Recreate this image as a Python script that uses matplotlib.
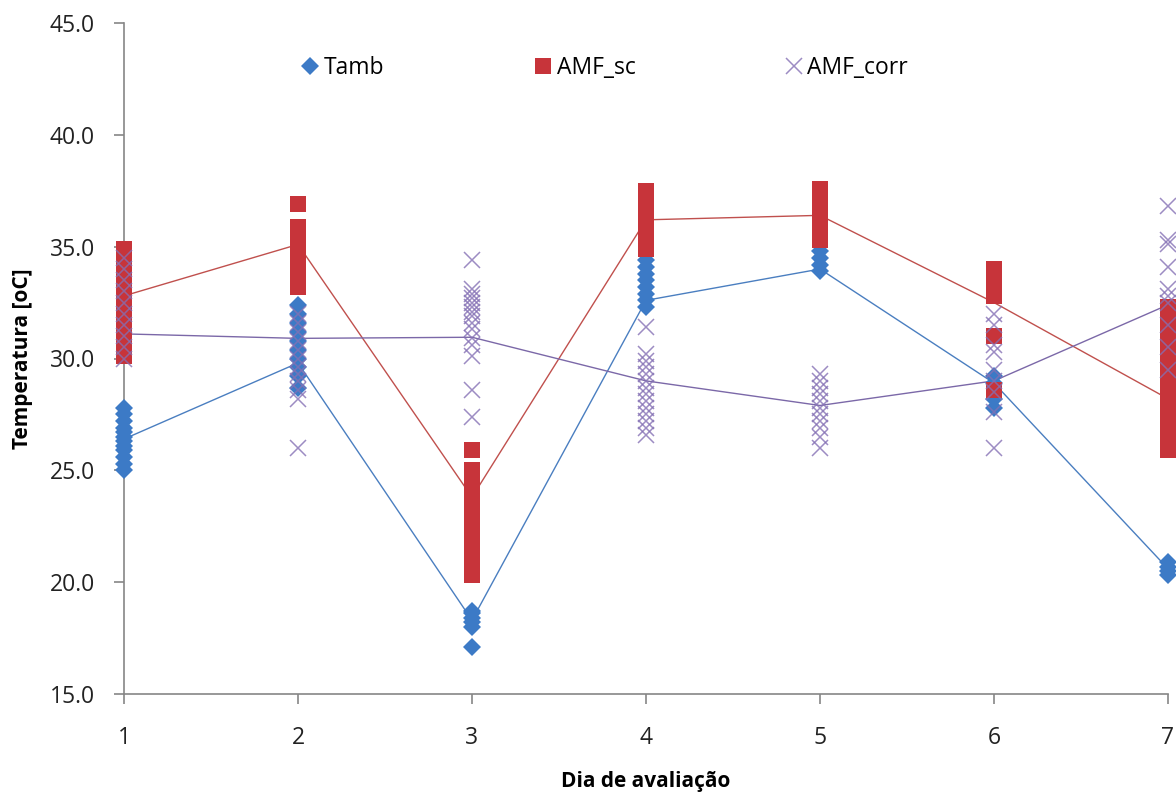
import numpy as np
import matplotlib.pyplot as plt
from matplotlib.ticker import FormatStrFormatter

plt.rcParams['font.family'] = ['Open Sans', 'DejaVu Sans']

# dias de avaliação
dias = [1, 2, 3, 4, 5, 6, 7]

# Tamb - valores por dia
tamb = [
    [25.0, 25.3, 25.6, 25.9, 26.1, 26.3, 26.5, 26.7, 26.9, 27.2, 27.5, 27.8],
    [28.7, 29.2, 29.6, 30.0, 30.4, 30.8, 31.2, 31.6, 32.0, 32.4],
    [17.1, 18.0, 18.2, 18.4, 18.6, 18.7],
    [32.3, 32.6, 32.9, 33.2, 33.5, 33.8, 34.1, 34.4],
    [33.9, 34.2, 34.5, 34.8],
    [27.8, 28.2, 28.9, 29.2],
    [20.3, 20.5, 20.7, 20.9],
]
tamb_media = [26.4, 29.8, 18.3, 32.6, 34.0, 28.9, 20.6]

# AMF_sc
amf_sc = [
    [30.1, 30.5, 30.9, 31.3, 31.7, 32.1, 32.5, 32.9, 33.3, 33.7, 34.1, 34.5, 34.9],
    [33.2, 33.6, 34.0, 34.4, 34.8, 35.2, 35.5, 35.9, 36.9],
    [20.3, 20.8, 21.3, 21.8, 22.3, 22.8, 23.3, 23.8, 24.3, 24.6, 25.0, 25.9],
    [34.9, 35.3, 35.7, 36.1, 36.5, 36.9, 37.2, 37.5],
    [35.3, 35.7, 36.1, 36.5, 36.9, 37.3, 37.6],
    [28.6, 31.0, 32.8, 33.2, 33.6, 34.0],
    [25.9, 26.5, 27.0, 27.4, 28.0, 28.5, 29.0, 29.6, 30.2, 30.7, 31.2, 31.8, 32.3],
]
amf_sc_media = [32.8, 35.1, 23.8, 36.2, 36.4, 32.5, 28.2]

# AMF_corr
amf_corr = [
    [30.0, 30.5, 31.0, 31.5, 32.0, 32.5, 33.0, 33.5, 34.0, 34.5],
    [26.0, 28.2, 28.6, 29.0, 29.3, 29.6, 30.0, 30.4, 30.8, 31.2, 31.6, 32.0],
    [27.4, 28.6, 30.1, 30.6, 30.9, 31.3, 31.6, 31.9, 32.1, 32.3, 32.5, 32.7, 32.9, 33.1, 34.4],
    [26.6, 26.9, 27.2, 27.5, 27.8, 28.1, 28.4, 28.7, 29.0, 29.3, 29.6, 29.9, 30.2, 31.4],
    [26.0, 26.5, 26.9, 27.2, 27.5, 27.8, 28.1, 28.4, 28.7, 29.0, 29.3],
    [26.0, 27.6, 28.5, 29.0, 29.5, 30.3, 30.6, 31.5, 32.0],
    [29.5, 30.5, 31.5, 32.5, 32.8, 33.1, 34.1, 35.1, 35.3, 36.8],
]
amf_corr_media = [31.1, 30.9, 30.95, 29.0, 27.9, 29.0, 32.4]


def expandir(dados):
    xs, ys = [], []
    for d, vals in zip(dias, dados):
        xs += [d] * len(vals)
        ys += vals
    return xs, ys


fig = plt.figure(figsize=(11.76, 7.96), dpi=100)
ax = fig.add_axes([124 / 1176, 1 - 694 / 796, (1168 - 124) / 1176, (694 - 23) / 796])

# linhas das médias (por baixo dos marcadores)
ax.plot(dias, tamb_media, '-', color='#4A7EC0', lw=1, zorder=2)
ax.plot(dias, amf_sc_media, '-', color='#C0504D', lw=1, zorder=2)
ax.plot(dias, amf_corr_media, '-', color='#7B68A8', lw=1, zorder=2)

x, y = expandir(tamb)
ax.plot(x, y, 'D', color='#3C7AC6', markersize=9.5, markeredgewidth=0,
        label='Tamb', clip_on=False, zorder=3)
x, y = expandir(amf_sc)
ax.plot(x, y, 's', color='#C7343A', markersize=11, markeredgewidth=0,
        label='AMF_sc', clip_on=False, zorder=4)
x, y = expandir(amf_corr)
ax.plot(x, y, 'x', color='#8470B4', alpha=0.8, markersize=11, markeredgewidth=1.1,
        label='AMF_corr', clip_on=False, zorder=5)

ax.set_xlim(1, 7)
ax.set_ylim(15, 45)
ax.set_xticks(dias)
ax.set_yticks(np.arange(15, 45.1, 5))
ax.yaxis.set_major_formatter(FormatStrFormatter('%.1f'))

for s in ['top', 'right']:
    ax.spines[s].set_visible(False)
for s in ['left', 'bottom']:
    ax.spines[s].set_color('#868686')
    ax.spines[s].set_linewidth(1.2)
ax.tick_params(axis='both', colors='#868686', length=7, width=1.2,
               labelsize=16.5, labelcolor='#222222')
ax.tick_params(axis='x', pad=16)
ax.tick_params(axis='y', pad=14)

ax.set_xlabel('Dia de avaliação', fontsize=15, fontweight='bold', labelpad=15)
ax.set_ylabel('Temperatura [oC]', fontsize=15, fontweight='bold', labelpad=12)

ax.legend(ncol=3, loc='center left', bbox_to_anchor=(0.15, 0.933), frameon=False,
          fontsize=16.5, handlelength=0.8, handletextpad=0.2, columnspacing=6.5)

plt.savefig('out.png', dpi=100)
